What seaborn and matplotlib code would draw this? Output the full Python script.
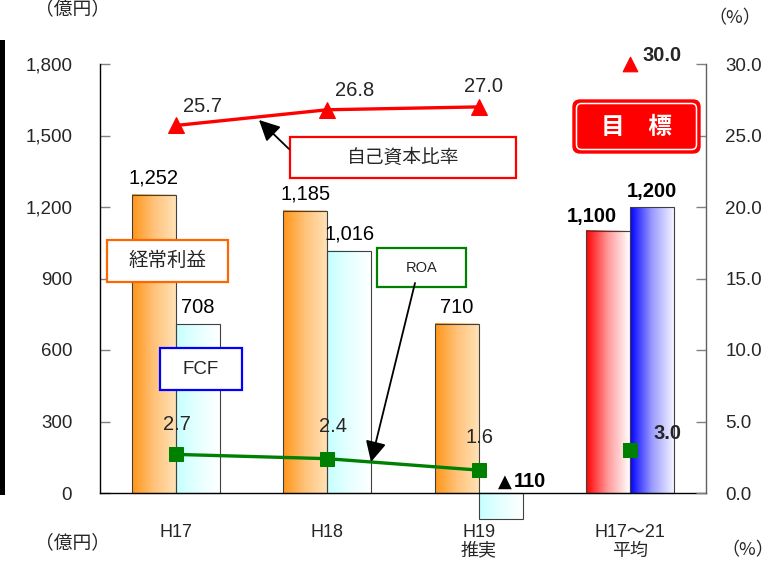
import numpy as np
import pandas as pd
import matplotlib
matplotlib.use("Agg")
import matplotlib.pyplot as plt
import seaborn as sns
from matplotlib.colors import LinearSegmentedColormap
from matplotlib.patches import Rectangle, FancyBboxPatch, FancyArrowPatch

# ---- data -------------------------------------------------------------
categories = ["H17", "H18", "H19\n推実", "H17～21\n平均"]
series_names = ["経常利益", "FCF"]
ordinary_profit = [1252, 1185, 710, 1100]      # 億円
free_cash_flow = [708, 1016, -110, 1200]       # 億円
equity_ratio = [25.7, 26.8, 27.0, 30.0]        # %
roa = [2.7, 2.4, 1.6, 3.0]                     # %
left_ticks = [0, 300, 600, 900, 1200, 1500, 1800]
right_ticks = [0.0, 5.0, 10.0, 15.0, 20.0, 25.0, 30.0]

sns.set_theme(style="white")
plt.rcParams["font.family"] = ["Liberation Sans", "Noto Sans CJK JP", "DejaVu Sans"]
JP = ["Noto Sans CJK JP", "DejaVu Sans"]
NUM = ["Liberation Sans", "DejaVu Sans"]

W, H = 781, 561
fig = plt.figure(figsize=(W / 100, H / 100), dpi=100)


def fig_xy(x, y):
    """pixel position (from top-left) -> figure fraction"""
    return x / W, 1 - y / H


ax = fig.add_axes([100 / W, 1 - 493 / H, 606 / W, 429 / H])

df = pd.DataFrame({
    "category": categories * 2,
    "series": [series_names[0]] * len(categories) + [series_names[1]] * len(categories),
    "value": ordinary_profit + free_cash_flow,
})

sns.barplot(data=df, x="category", y="value", hue="series", order=categories,
            hue_order=series_names, width=0.58, dodge=True, legend=False,
            palette=["#ff9933", "#ccffff"], saturation=1, errorbar=None,
            edgecolor="#404040", linewidth=0.8, ax=ax)

# horizontal gradient fills for each bar
gradients = {
    (0, False): ["#ff9618", "#ffc27a", "#ffe2b6"],
    (1, False): ["#c6ffff", "#e6ffff", "#ffffff"],
    (0, True): ["#ff0000", "#ff9a9a", "#ffffff"],
    (1, True): ["#0000ff", "#9a9aff", "#f4f4ff"],
}
bar_info = []
for p in list(ax.patches):
    bb = p.get_bbox()
    xc = (bb.x0 + bb.x1) / 2
    cat = int(round(xc))
    hue = 0 if xc < cat else 1
    target = cat == len(categories) - 1
    cmap = LinearSegmentedColormap.from_list("bar", gradients[(hue, target)])
    ax.imshow(np.linspace(0, 1, 256).reshape(1, -1), cmap=cmap, aspect="auto",
              extent=[bb.x0, bb.x1, min(bb.y0, bb.y1), max(bb.y0, bb.y1)],
              interpolation="bilinear", zorder=1.9, clip_on=False)
    p.set_facecolor("none")
    p.set_zorder(2)
    p.set_clip_on(False)
    bar_info.append((cat, hue, xc, p.get_height()))

ax.set_xlim(-0.5, len(categories) - 0.5)
ax.set_ylim(0, 1800)
ax.set_xlabel("")
ax.set_ylabel("")

x_idx = np.arange(len(categories))
ax.set_xticks(x_idx, labels=categories)
ax.set_xticks(np.arange(len(categories) + 1) - 0.5, minor=True)
ax.tick_params(axis="x", which="major", length=0, pad=22, labelsize=13)
ax.tick_params(axis="x", which="minor", length=7, direction="in", color="#808080", width=1)
ax.xaxis.set_zorder(3)
for lab in ax.get_xticklabels():
    lab.set_linespacing(1.15)
ax.set_yticks(left_ticks, labels=[f"{v:,}" for v in left_ticks])
ax.tick_params(axis="y", length=7, direction="in", color="#808080", width=1,
               pad=20, labelsize=13.5, left=True)
for s in ["top", "right"]:
    ax.spines[s].set_visible(False)
for s in ["left", "bottom"]:
    ax.spines[s].set_color("#000000")
    ax.spines[s].set_linewidth(1.0)

# bar value labels
bar_offsets = {
    (0, 0): (0, 11), (1, 0): (0, 11), (2, 0): (0, 11), (3, 0): (-16, 9),
    (0, 1): (0, 11), (1, 1): (0, 11), (2, 1): (12, 6), (3, 1): (0, 10),
}
for cat, hue, xc, h in bar_info:
    value = (ordinary_profit, free_cash_flow)[hue][cat]
    bold = cat == len(categories) - 1 or value < 0
    dx, dy = bar_offsets[(cat, hue)]
    if value >= 0:
        ax.annotate(f"{value:,}", xy=(xc, value), xytext=(dx, dy), textcoords="offset pixels",
                    ha="center", va="baseline", fontsize=14.5, color="black", family=NUM,
                    fontweight="bold" if bold else "normal", zorder=5, annotation_clip=False)
    else:
        # negative values are written with a leading ▲
        ax.annotate("▲", xy=(xc, 0), xytext=(dx - 1, dy), textcoords="offset pixels",
                    ha="right", va="baseline", fontsize=13, color="black",
                    family=["DejaVu Sans"], zorder=5, annotation_clip=False)
        ax.annotate(f"{-value:,}", xy=(xc, 0), xytext=(dx + 1, dy), textcoords="offset pixels",
                    ha="left", va="baseline", fontsize=14.5, color="black", family=NUM,
                    fontweight="bold", zorder=5, annotation_clip=False)

# percentage axis
ax2 = ax.twinx()
ax2.set_ylim(0, 30)
ax2.set_yticks(right_ticks, labels=[f"{v:.1f}" for v in right_ticks])
ax2.tick_params(axis="y", length=7, direction="in", color="#808080", width=1,
                pad=14, labelsize=13.5, right=True)
for s in ["top", "left", "bottom"]:
    ax2.spines[s].set_visible(False)
ax2.spines["right"].set_color("#606060")
ax2.spines["right"].set_linewidth(1.0)
ax2.grid(False)

sns.lineplot(x=x_idx[:3], y=equity_ratio[:3], ax=ax2, color="#ff0000", lw=2.4,
             marker="^", markersize=11, markeredgecolor="#ff0000", zorder=4)
sns.scatterplot(x=x_idx[3:], y=equity_ratio[3:], ax=ax2, color="#ff0000", marker="^",
                s=110, edgecolor="#ff0000", zorder=4, clip_on=False)
sns.lineplot(x=x_idx[:3], y=roa[:3], ax=ax2, color="#008000", lw=2.4,
             marker="s", markersize=9.5, markeredgecolor="#008000", zorder=4)
sns.scatterplot(x=x_idx[3:], y=roa[3:], ax=ax2, color="#008000", marker="s",
                s=90, edgecolor="#008000", zorder=4, clip_on=False)
for ln in ax2.lines:
    ln.set_clip_on(False)
ax2.set_xlim(-0.5, len(categories) - 0.5)
ax2.set_ylabel("")

eq_offsets = [(27, 19), (27, 19), (5, 20), (32, 9)]
roa_offsets = [(1, 30), (6, 32), (1, 33), (37, 17)]
for i, (v, off) in enumerate(zip(equity_ratio, eq_offsets)):
    ax2.annotate(f"{v:.1f}", xy=(x_idx[i], v), xytext=off, textcoords="offset pixels",
                 ha="center", va="center", fontsize=14.5,
                 fontweight="bold" if i == 3 else "normal", annotation_clip=False)
for i, (v, off) in enumerate(zip(roa, roa_offsets)):
    ax2.annotate(f"{v:.1f}", xy=(x_idx[i], v), xytext=off, textcoords="offset pixels",
                 ha="center", va="center", fontsize=14.5,
                 fontweight="bold" if i == 3 else "normal", annotation_clip=False)


# ---- call-out boxes ------------------------------------------------------
def callout(x0, y0, x1, y1, text, edge, size):
    fx0, fy1 = fig_xy(x0, y1)
    fx1, fy0 = fig_xy(x1, y0)
    fig.add_artist(Rectangle((fx0, fy1), fx1 - fx0, fy0 - fy1, transform=fig.transFigure,
                             facecolor="white", edgecolor=edge, lw=1.6, zorder=6))
    cx, cy = fig_xy((x0 + x1) / 2, (y0 + y1) / 2)
    fig.text(cx, cy, text, ha="center", va="center", fontsize=size, zorder=7)


callout(107, 240, 228, 282, "経常利益", "#ff6600", 14)
callout(160, 348, 242, 390, "FCF", "#0000ff", 13.5)
callout(377, 248, 466, 287, "ROA", "#008000", 10.5)
callout(290, 137, 516, 178, "自己資本比率", "#ff0000", 13.5)

arrow = dict(arrowstyle="-|>,head_length=0.9,head_width=0.45", color="black", lw=1.3,
             shrinkA=0, shrinkB=0)
fig.add_artist(FancyArrowPatch(fig_xy(415, 283), fig_xy(371, 462),
                               transform=fig.transFigure, zorder=8,
                               mutation_scale=14, **arrow))
fig.add_artist(FancyArrowPatch(fig_xy(289, 149), fig_xy(259, 120),
                               transform=fig.transFigure, zorder=8,
                               mutation_scale=14, **arrow))

# 目標 badge (rounded, double outline)
px = fig.dpi_scale_trans
fig.add_artist(FancyBboxPatch((573 / 100, (H - 153) / 100), 127 / 100, 53 / 100,
                              boxstyle="round,pad=0,rounding_size=0.07",
                              transform=px, facecolor="#ff0000", edgecolor="#ff0000",
                              lw=1.0, zorder=6))
fig.add_artist(FancyBboxPatch((576.5 / 100, (H - 149.5) / 100), 120 / 100, 46 / 100,
                              boxstyle="round,pad=0,rounding_size=0.05",
                              transform=px, facecolor="none", edgecolor="white",
                              lw=1.1, zorder=7))
fig.text(*fig_xy(636.5, 127), "目\u3000標", ha="center", va="center", fontsize=17,
         fontweight="bold", color="white", family=JP, zorder=8)

# unit labels
fig.text(*fig_xy(73, 9), "（億円）", ha="center", va="center", fontsize=13.5, family=JP)
fig.text(*fig_xy(73, 543), "（億円）", ha="center", va="center", fontsize=13.5, family=JP)
fig.text(*fig_xy(735, 18), "（%）", ha="center", va="center", fontsize=13, family=JP)
fig.text(*fig_xy(748, 550), "（%）", ha="center", va="center", fontsize=13, family=JP)

# heavy rule along the left edge
fig.add_artist(Rectangle(fig_xy(0, 495), 5 / W, 455 / H, transform=fig.transFigure,
                         facecolor="black", edgecolor="none", zorder=9))

fig.savefig("out.png", dpi=100)
